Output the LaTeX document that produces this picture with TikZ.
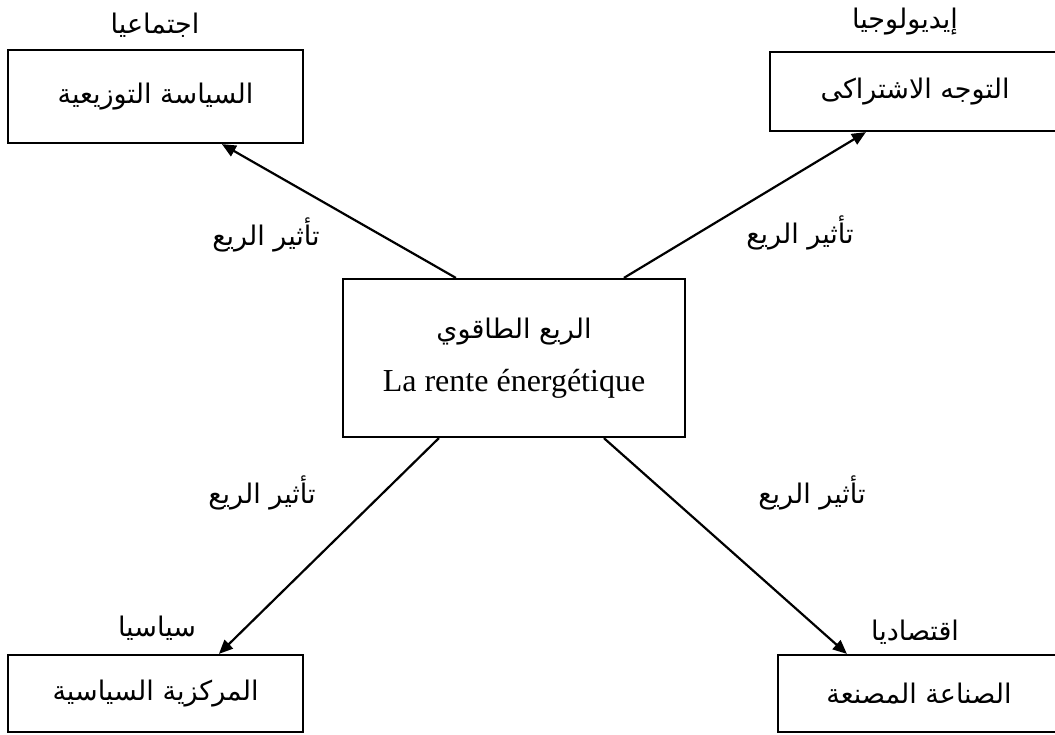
\documentclass[tikz,border=0pt]{standalone}
\usepackage{fontspec}
\setmainfont{Liberation Serif}
\newfontfamily\arabicfont[Script=Arabic]{DejaVu Sans}
\TeXXeTstate=1
\usetikzlibrary{arrows.meta}
\newcommand{\artxt}[1]{{\arabicfont\beginR #1\endR}}
\begin{document}
\begin{tikzpicture}[x=1pt,y=-1pt,
  box/.style={draw,line width=2.2pt,inner sep=0pt,font=\fontsize{27}{32}\selectfont},
  lbl/.style={inner sep=0pt,font=\fontsize{27}{32}\selectfont},
  arr/.style={line width=2.2pt,-{Triangle[length=14pt,width=12pt]}}]
\useasboundingbox (0,0) rectangle (1055,735);
\fill[white] (0,0) rectangle (1055,735);
% boxes
\node[box,minimum width=295pt,minimum height=93pt] (tl) at (155.5,96.5) {\artxt{السياسة التوزيعية}};
\node[box,minimum width=290pt,minimum height=79pt] (tr) at (915,91.5) {\artxt{التوجه الاشتراكى}};
\node[box,minimum width=295pt,minimum height=77pt] (bl) at (155.5,693.5) {\artxt{المركزية السياسية}};
\node[box,minimum width=282pt,minimum height=77pt] (br) at (919,693.5) {\artxt{الصناعة المصنعة}};
\node[box,minimum width=342pt,minimum height=158pt,align=center] (c) at (514,358)
  {\artxt{الريع الطاقوي}\\[21pt]{\fontsize{32}{36}\selectfont La rente énergétique}};
% top labels
\node[lbl] (ltl) at (155,25) {\artxt{اجتماعيا}};
\node[lbl] (ltr) at (905,22) {\artxt{إيديولوجيا}};
\node[lbl] (lbl1) at (157,628) {\artxt{سياسيا}};
\node[lbl] (lbr) at (915,632) {\artxt{اقتصاديا}};
% arrows
\draw[arr] ([xshift=114pt]c.north west) -- ([xshift=215pt]tl.south west);
\draw[arr] ([xshift=282pt]c.north west) -- ([xshift=97pt]tr.south west);
\draw[arr] ([xshift=97pt]c.south west) -- ([xshift=212pt]bl.north west);
\draw[arr] ([xshift=262pt]c.south west) -- ([xshift=70pt]br.north west);
% arrow labels
\node[lbl] (e1) at (266,235) {\artxt{تأثير الريع}};
\node[lbl] (e2) at (800,233) {\artxt{تأثير الريع}};
\node[lbl] (e3) at (262,493) {\artxt{تأثير الريع}};
\node[lbl] (e4) at (812,493) {\artxt{تأثير الريع}};
\end{tikzpicture}
\end{document}
